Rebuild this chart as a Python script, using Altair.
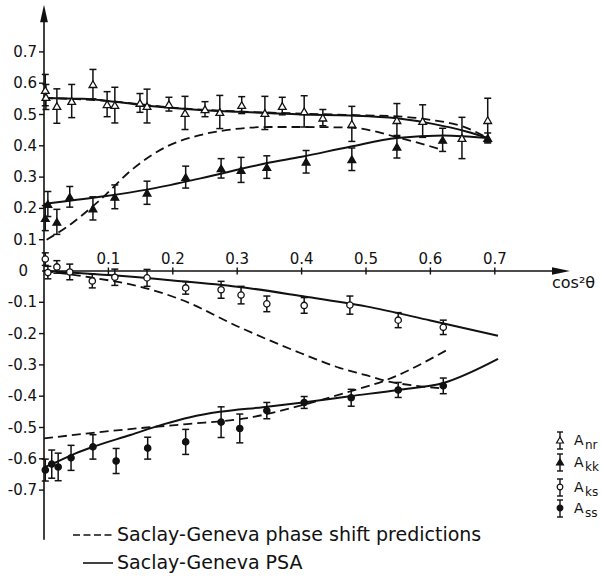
import altair as alt
import pandas as pd

# ---------------- data ----------------
anr_x = [0.002, 0.003, 0.020, 0.043, 0.076, 0.098, 0.110, 0.149, 0.160, 0.194, 0.219, 0.250,
         0.273, 0.307, 0.343, 0.370, 0.404, 0.433, 0.478, 0.548, 0.588, 0.649, 0.689]
anr_y = [0.578, 0.556, 0.527, 0.543, 0.597, 0.533, 0.530, 0.537, 0.527, 0.533, 0.505, 0.517,
         0.508, 0.530, 0.505, 0.527, 0.510, 0.490, 0.470, 0.482, 0.479, 0.425, 0.482]
anr_e = [0.050, 0.040, 0.055, 0.053, 0.047, 0.040, 0.057, 0.030, 0.054, 0.022, 0.053, 0.024,
         0.053, 0.027, 0.053, 0.028, 0.050, 0.026, 0.056, 0.053, 0.052, 0.066, 0.070]

akk_x = [0.002, 0.006, 0.020, 0.040, 0.076, 0.110, 0.160, 0.220, 0.275, 0.306, 0.346, 0.407,
         0.478, 0.548, 0.619, 0.689]
akk_y = [0.169, 0.214, 0.157, 0.237, 0.200, 0.237, 0.250, 0.300, 0.328, 0.323, 0.332, 0.349,
         0.357, 0.397, 0.419, 0.425]
akk_e = [0.040, 0.040, 0.040, 0.033, 0.037, 0.038, 0.037, 0.035, 0.031, 0.040, 0.036, 0.036,
         0.036, 0.036, 0.037, 0.016]

aks_x = [0.002, 0.006, 0.020, 0.040, 0.075, 0.110, 0.160, 0.220, 0.275, 0.306, 0.346, 0.404,
         0.475, 0.550, 0.620]
aks_y = [0.038, -0.005, 0.013, -0.003, -0.032, -0.020, -0.022, -0.054, -0.060, -0.077, -0.105,
         -0.110, -0.109, -0.157, -0.180]
aks_e = [0.020, 0.020, 0.020, 0.025, 0.022, 0.026, 0.027, 0.020, 0.027, 0.028, 0.025, 0.025,
         0.029, 0.024, 0.023]

ass_x = [0.002, 0.012, 0.022, 0.042, 0.076, 0.112, 0.161, 0.220, 0.275, 0.304, 0.346, 0.404,
         0.477, 0.550, 0.620]
ass_y = [-0.636, -0.617, -0.626, -0.597, -0.562, -0.607, -0.566, -0.546, -0.483, -0.503,
         -0.446, -0.420, -0.405, -0.380, -0.367]
ass_e = [0.035, 0.045, 0.044, 0.040, 0.039, 0.040, 0.035, 0.040, 0.049, 0.046, 0.026, 0.019,
         0.027, 0.024, 0.025]

# Saclay-Geneva PSA (solid)
psa_anr_x = [0.0, 0.06, 0.113, 0.165, 0.242, 0.345, 0.4, 0.475, 0.548, 0.604, 0.657, 0.689]
psa_anr_y = [0.553, 0.55, 0.54, 0.527, 0.514, 0.505, 0.5, 0.497, 0.488, 0.47, 0.445, 0.425]
psa_akk_x = [0.0, 0.087, 0.16, 0.243, 0.345, 0.4, 0.475, 0.548, 0.62, 0.689]
psa_akk_y = [0.214, 0.237, 0.26, 0.296, 0.344, 0.365, 0.397, 0.425, 0.433, 0.425]
psa_aks_x = [0.0, 0.1, 0.2, 0.3, 0.4, 0.5, 0.6, 0.705]
psa_aks_y = [0.0, -0.013, -0.03, -0.05, -0.08, -0.113, -0.158, -0.207]
psa_ass_x = [0.0, 0.02, 0.043, 0.076, 0.134, 0.185, 0.227, 0.273, 0.34, 0.402, 0.475, 0.55,
             0.62, 0.705]
psa_ass_y = [-0.628, -0.61, -0.588, -0.562, -0.524, -0.49, -0.467, -0.45, -0.435, -0.42, -0.4,
             -0.38, -0.358, -0.281]

# Saclay-Geneva phase shift predictions (dashed)
ps_anr_x = [0.0, 0.1, 0.2, 0.3, 0.4, 0.5, 0.55, 0.6, 0.65, 0.689]
ps_anr_y = [0.553, 0.543, 0.522, 0.51, 0.503, 0.497, 0.494, 0.483, 0.462, 0.425]
ps_akk_x = [0.004, 0.035, 0.087, 0.139, 0.19, 0.242, 0.294, 0.35, 0.4, 0.475, 0.553, 0.62]
ps_akk_y = [0.1, 0.14, 0.227, 0.328, 0.397, 0.434, 0.453, 0.46, 0.46, 0.458, 0.425, 0.386]
ps_aks_x = [0.0, 0.071, 0.149, 0.211, 0.304, 0.398, 0.46, 0.5, 0.532, 0.575, 0.62]
ps_aks_y = [0.0, -0.02, -0.05, -0.09, -0.18, -0.262, -0.31, -0.333, -0.352, -0.366, -0.375]
ps_ass_x = [0.0, 0.076, 0.16, 0.222, 0.315, 0.402, 0.475, 0.532, 0.626]
ps_ass_y = [-0.535, -0.517, -0.5, -0.489, -0.47, -0.428, -0.385, -0.348, -0.252]

x_ticks = [0.1, 0.2, 0.3, 0.4, 0.5, 0.6, 0.7]
y_ticks = [0.7, 0.6, 0.5, 0.4, 0.3, 0.2, 0.1, -0.1, -0.2, -0.3, -0.4, -0.5, -0.6, -0.7]

series_names = ["Anr", "Akk", "Aks", "Ass"]
series_subs = ["nr", "kk", "ks", "ss"]
legend_dash = "Saclay-Geneva phase shift predictions"
legend_solid = "Saclay-Geneva PSA"
x_title = "cos\u00b2\u03b8"

# ---------------- geometry ----------------
W, H = 602, 578
X0, XS = 44, 644     # pixel of x=0, pixels per unit
Y0, YS = 271, 313    # pixel of y=0, pixels per unit
xs = alt.Scale(domain=[(0 - X0) / XS, (W - X0) / XS], nice=False, zero=False)
ys = alt.Scale(domain=[(Y0 - H) / YS, Y0 / YS], nice=False, zero=False)
INK = "#111111"
FONT = "DejaVu Sans"


def X(f):
    return alt.X(f, type="quantitative", scale=xs, axis=None)


def Y(f):
    return alt.Y(f, type="quantitative", scale=ys, axis=None)


# ---------------- tables ----------------
obs = {
    "Anr": (anr_x, anr_y, anr_e),
    "Akk": (akk_x, akk_y, akk_e),
    "Aks": (aks_x, aks_y, aks_e),
    "Ass": (ass_x, ass_y, ass_e),
}
rows = []
for s, (xx, yy, ee) in obs.items():
    for a, b, e in zip(xx, yy, ee):
        rows.append({"series": s, "x": a, "y": b, "lo": b - e, "hi": b + e})
pts = pd.DataFrame(rows)

crv = []
for name, xx, yy in [("Anr", psa_anr_x, psa_anr_y), ("Akk", psa_akk_x, psa_akk_y),
                     ("Aks", psa_aks_x, psa_aks_y), ("Ass", psa_ass_x, psa_ass_y)]:
    for i, (a, b) in enumerate(zip(xx, yy)):
        crv.append({"series": name, "kind": "psa", "x": a, "y": b, "o": i})
for name, xx, yy in [("Anr", ps_anr_x, ps_anr_y), ("Akk", ps_akk_x, ps_akk_y),
                     ("Aks", ps_aks_x, ps_aks_y), ("Ass", ps_ass_x, ps_ass_y)]:
    for i, (a, b) in enumerate(zip(xx, yy)):
        crv.append({"series": name, "kind": "ps", "x": a, "y": b, "o": i})
curves = pd.DataFrame(crv)

xt = pd.DataFrame({"x": x_ticks, "y": [0] * len(x_ticks),
                   "label": [f"{v:.1f}" for v in x_ticks]})
yt = pd.DataFrame({"y": y_ticks, "x": [0] * len(y_ticks),
                   "label": [f"{v:.1f}" for v in y_ticks]})
zero = pd.DataFrame({"x": [0], "y": [0], "label": ["0"]})

base_x_axis = pd.DataFrame({"x": [-0.003], "x2": [0.795], "y": [0]})
base_y_axis = pd.DataFrame({"x": [0], "y": [-0.859], "y2": [0.815]})
arrow_x = pd.DataFrame({"x": [0.8028], "y": [0]})
arrow_y = pd.DataFrame({"x": [0], "y": [0.8227]})
one = pd.DataFrame({"k": [0]})

layers = []

# axes
layers.append(alt.Chart(base_x_axis).mark_rule(color=INK, strokeWidth=1.6).encode(
    x=X("x"), x2="x2", y=Y("y")))
layers.append(alt.Chart(base_y_axis).mark_rule(color=INK, strokeWidth=1.6).encode(
    x=X("x"), y=Y("y"), y2="y2"))
layers.append(alt.Chart(arrow_x).mark_point(
    shape="M-1,-0.42L1,0L-1,0.42Z", size=324, filled=True, color=INK, opacity=1).encode(
    x=X("x"), y=Y("y")))
layers.append(alt.Chart(arrow_y).mark_point(
    shape="M-0.45,1L0,-1L0.45,1Z", size=300, filled=True, color=INK, opacity=1).encode(
    x=X("x"), y=Y("y")))
layers.append(alt.Chart(xt).mark_tick(orient="vertical", size=7, thickness=1.4,
                                      color=INK, opacity=1).encode(x=X("x"), y=Y("y")))
layers.append(alt.Chart(yt).mark_tick(orient="horizontal", size=5, thickness=1.4,
                                      color=INK, opacity=1, xOffset=-2.5).encode(
    x=X("x"), y=Y("y")))
layers.append(alt.Chart(xt).mark_text(font=FONT, fontSize=15, color=INK, baseline="alphabetic",
                                      align="center", dy=-7).encode(
    x=X("x"), y=Y("y"), text="label:N"))
layers.append(alt.Chart(yt).mark_text(font=FONT, fontSize=15, color=INK, baseline="middle",
                                      align="right", dx=-7).encode(
    x=X("x"), y=Y("y"), text="label:N"))
layers.append(alt.Chart(zero).mark_text(font=FONT, fontSize=15, color=INK, baseline="middle",
                                        align="right", dx=-16).encode(
    x=X("x"), y=Y("y"), text="label:N"))
layers.append(alt.Chart(one).mark_text(font=FONT, fontSize=16, color=INK, baseline="middle",
                                       align="left", text=x_title).encode(
    x=alt.value(552), y=alt.value(283)))

# curves
layers.append(alt.Chart(curves).transform_filter("datum.kind == 'psa'").mark_line(
    color=INK, strokeWidth=2, interpolate="monotone").encode(
    x=X("x"), y=Y("y"), detail="series:N", order="o:Q"))
layers.append(alt.Chart(curves).transform_filter("datum.kind == 'ps'").mark_line(
    color=INK, strokeWidth=1.8, strokeDash=[9, 5], interpolate="monotone").encode(
    x=X("x"), y=Y("y"), detail="series:N", order="o:Q"))

# error bars
layers.append(alt.Chart(pts).mark_rule(color=INK, strokeWidth=1.5).encode(
    x=X("x"), y=Y("lo"), y2="hi"))
layers.append(alt.Chart(pts).mark_tick(orient="horizontal", size=7, thickness=1.5,
                                       color=INK, opacity=1).encode(x=X("x"), y=Y("lo")))
layers.append(alt.Chart(pts).mark_tick(orient="horizontal", size=7, thickness=1.5,
                                       color=INK, opacity=1).encode(x=X("x"), y=Y("hi")))

# markers
style = {
    "Anr": dict(shape="triangle-up", size=60, fill="white"),
    "Akk": dict(shape="triangle-up", size=60, fill=INK),
    "Aks": dict(shape="circle", size=40, fill="white"),
    "Ass": dict(shape="circle", size=40, fill=INK),
}
for s in series_names:
    st = style[s]
    layers.append(alt.Chart(pts).transform_filter(f"datum.series == '{s}'").mark_point(
        shape=st["shape"], size=st["size"], fill=st["fill"], stroke=INK, strokeWidth=1.3,
        filled=False, opacity=1, fillOpacity=1).encode(x=X("x"), y=Y("y")))

# legend (line styles)
layers.append(alt.Chart(one).mark_rule(color=INK, strokeWidth=1.6, strokeDash=[7, 3.5]).encode(
    x=alt.value(73), x2=alt.value(112), y=alt.value(535)))
layers.append(alt.Chart(one).mark_text(font=FONT, fontSize=19, color=INK, align="left",
                                       baseline="alphabetic", text=legend_dash).encode(
    x=alt.value(117), y=alt.value(541)))
layers.append(alt.Chart(one).mark_rule(color=INK, strokeWidth=1.6).encode(
    x=alt.value(83), x2=alt.value(113), y=alt.value(563)))
layers.append(alt.Chart(one).mark_text(font=FONT, fontSize=19, color=INK, align="left",
                                       baseline="alphabetic", text=legend_solid).encode(
    x=alt.value(117), y=alt.value(569)))

# legend (symbols)
leg_y = [440, 462, 487, 508]
for s, sub, py in zip(series_names, series_subs, leg_y):
    st = style[s]
    layers.append(alt.Chart(one).mark_rule(color=INK, strokeWidth=1.4).encode(
        x=alt.value(560), y=alt.value(py - 8), y2=alt.value(py + 9)))
    for cy in (py - 8, py + 9):
        layers.append(alt.Chart(one).mark_rule(color=INK, strokeWidth=1.4).encode(
            x=alt.value(557), x2=alt.value(563), y=alt.value(cy)))
    layers.append(alt.Chart(one).mark_point(
        shape=st["shape"], size=st["size"] * 0.8, fill=st["fill"], stroke=INK, strokeWidth=1.2,
        filled=False, opacity=1, fillOpacity=1).encode(x=alt.value(560), y=alt.value(py)))
    layers.append(alt.Chart(one).mark_text(font=FONT, fontSize=14, color=INK, align="left",
                                           baseline="alphabetic", text="A").encode(
        x=alt.value(574), y=alt.value(py + 5)))
    layers.append(alt.Chart(one).mark_text(font=FONT, fontSize=12, color=INK, align="left",
                                           baseline="alphabetic", text=sub).encode(
        x=alt.value(585), y=alt.value(py + 9)))

chart = alt.layer(*layers).properties(
    width=W, height=H, padding=0, autosize=alt.AutoSizeParams(type="none"),
    background="white"
).configure_view(stroke=None)

chart.save("out.html", embed_options={"renderer": "svg", "actions": False})
